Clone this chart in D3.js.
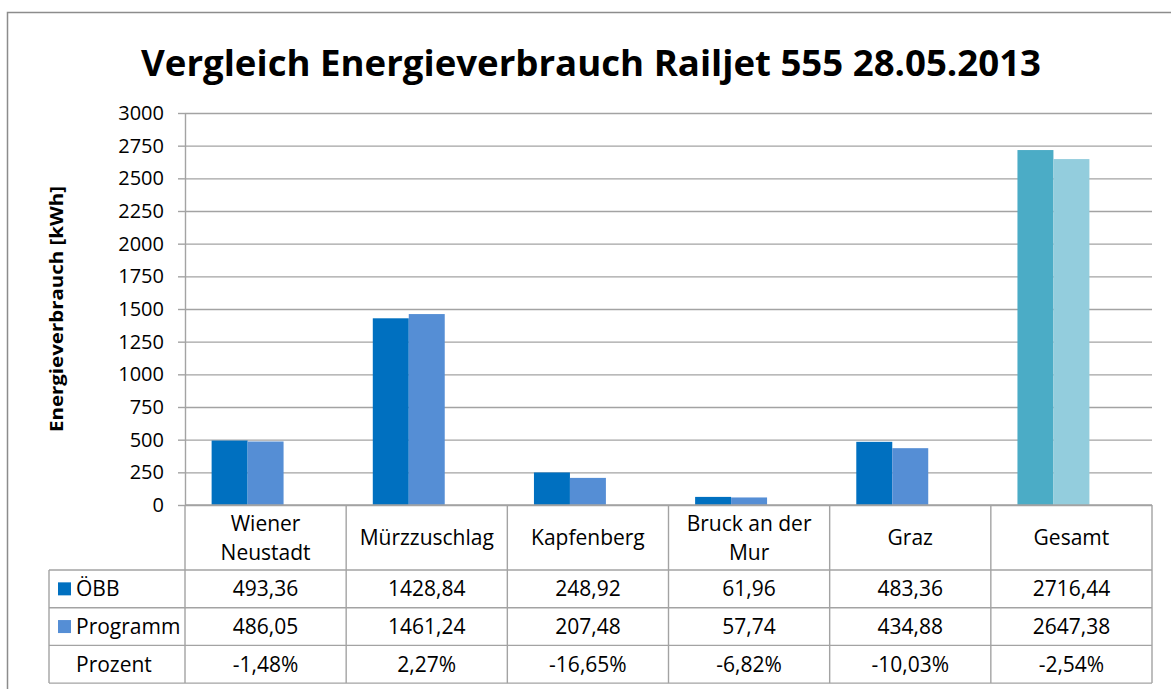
<!DOCTYPE html>
<html>
<head>
<meta charset="utf-8">
<script src="https://d3js.org/d3.v7.min.js"></script>
<style>
  body { margin: 0; background: #fff; }
  text { font-family: "Open Sans", sans-serif; fill: #000; }
</style>
</head>
<body>
<div id="chart"></div>
<script>
// Chart data
var categories = ["Wiener Neustadt", "Mürzzuschlag", "Kapfenberg", "Bruck an der Mur", "Graz", "Gesamt"];
var categoryLines = [["Wiener", "Neustadt"], ["Mürzzuschlag"], ["Kapfenberg"], ["Bruck an der", "Mur"], ["Graz"], ["Gesamt"]];
var seriesNames = ["ÖBB", "Programm", "Prozent"];
var oebbValues = [493.36, 1428.84, 248.92, 61.96, 483.36, 2716.44];
var programmValues = [486.05, 1461.24, 207.48, 57.74, 434.88, 2647.38];
var prozentLabels = ["-1,48%", "2,27%", "-16,65%", "-6,82%", "-10,03%", "-2,54%"];
var yTicks = [0, 250, 500, 750, 1000, 1250, 1500, 1750, 2000, 2250, 2500, 2750, 3000];

// colours: normal bars and the highlighted "Gesamt" bars
var seriesColors = { "ÖBB": "#0070C0", "Programm": "#558ED5" };
var totalColors = { "ÖBB": "#4BACC6", "Programm": "#93CDDD" };

var svgWidth = 1171;
var svgHeight = 689;

// plot area
var plotLeft = 185, plotRight = 1152, plotTop = 113, plotBottom = 505;
// table rows
var headerBottom = 570;
var rowHeight = 37.7;
var tableLeft = 49;
var gridColor = "#a3a3a3";
var tableFont = "21px";

var svg = d3.select("#chart")
  .append("svg")
  .attr("width", svgWidth)
  .attr("height", svgHeight);

// outer chart border (runs off the right and bottom edge)
svg.append("rect")
  .attr("x", 7.5).attr("y", 12.5)
  .attr("width", 1200).attr("height", 720)
  .attr("fill", "#fff")
  .attr("stroke", "#8c8c8c")
  .attr("stroke-width", 1.5);

// title
svg.append("text")
  .attr("x", 591).attr("y", 76)
  .attr("text-anchor", "middle")
  .attr("textLength", 900)
  .attr("lengthAdjust", "spacingAndGlyphs")
  .style("font-size", "35px")
  .style("font-weight", "bold")
  .text("Vergleich Energieverbrauch Railjet 555 28.05.2013");

// scales
var x = d3.scaleBand().domain(categories).range([plotLeft, plotRight]);
var xSeries = d3.scaleBand().domain(seriesNames)
  .range([0, x.bandwidth()])
  .paddingInner(0).paddingOuter(0.74);
var y = d3.scaleLinear().domain([0, 3000]).range([plotBottom, plotTop]);

// gridlines
svg.append("g")
  .attr("transform", `translate(${plotLeft},0)`)
  .call(d3.axisLeft(y).tickValues(yTicks).tickSize(-(plotRight - plotLeft)).tickFormat(""))
  .call(g => g.select(".domain").remove())
  .call(g => g.selectAll("line").attr("stroke", gridColor).attr("stroke-width", 1.4));

// y axis with tick labels (no thousands separator)
var yAxis = svg.append("g")
  .attr("transform", `translate(${plotLeft},0)`)
  .call(d3.axisLeft(y).tickValues(yTicks).tickFormat(d3.format("d"))
    .tickSizeInner(7).tickSizeOuter(0).tickPadding(14));
yAxis.select(".domain").attr("stroke", gridColor).attr("stroke-width", 1.4);
yAxis.selectAll(".tick line").attr("stroke", gridColor).attr("stroke-width", 1.4);
yAxis.selectAll(".tick text")
  .style("font-size", "20px")
  .style("font-family", "'Open Sans', sans-serif")
  .attr("fill", "#000");

// y axis title
svg.append("text")
  .attr("transform", "translate(63,309) rotate(-90)")
  .attr("text-anchor", "middle")
  .attr("textLength", 246)
  .attr("lengthAdjust", "spacingAndGlyphs")
  .style("font-size", "18px")
  .style("font-weight", "bold")
  .text("Energieverbrauch [kWh]");

// bars
var barData = [];
categories.forEach(function(c, i) {
  barData.push({ cat: c, series: "ÖBB", value: oebbValues[i], total: c === "Gesamt" });
  barData.push({ cat: c, series: "Programm", value: programmValues[i], total: c === "Gesamt" });
});

svg.append("g").selectAll("rect")
  .data(barData)
  .enter()
  .append("rect")
  .attr("x", d => x(d.cat) + xSeries(d.series))
  .attr("y", d => y(d.value))
  .attr("width", xSeries.bandwidth())
  .attr("height", d => y(0) - y(d.value))
  .attr("fill", d => d.total ? totalColors[d.series] : seriesColors[d.series]);

// data table
var tableBottom = headerBottom + rowHeight * 3;
var table = svg.append("g")
  .attr("stroke", gridColor)
  .attr("stroke-width", 1.4);

// horizontal lines
table.append("line").attr("x1", plotLeft).attr("x2", plotRight).attr("y1", plotBottom).attr("y2", plotBottom);
[0, 1, 2, 3].forEach(function(r) {
  var yy = headerBottom + r * rowHeight;
  table.append("line").attr("x1", tableLeft).attr("x2", plotRight).attr("y1", yy).attr("y2", yy);
});
// vertical lines
table.append("line").attr("x1", tableLeft).attr("x2", tableLeft).attr("y1", headerBottom).attr("y2", tableBottom);
table.append("line").attr("x1", plotLeft).attr("x2", plotLeft).attr("y1", plotBottom).attr("y2", tableBottom);
categories.forEach(function(c) {
  var xx = x(c) + x.bandwidth();
  table.append("line").attr("x1", xx).attr("x2", xx).attr("y1", plotBottom).attr("y2", tableBottom);
});

// category header text
var fmt = d3.formatLocale({ decimal: ",", thousands: "", grouping: [3], currency: ["", "€"] }).format(".2f");
var headerMid = (plotBottom + headerBottom) / 2;

categories.forEach(function(c, i) {
  var lines = categoryLines[i];
  var t = svg.append("text")
    .attr("text-anchor", "middle")
    .style("font-size", tableFont);
  lines.forEach(function(line, j) {
    t.append("tspan")
      .attr("x", x(c) + x.bandwidth() / 2)
      .attr("y", headerMid + (j - (lines.length - 1) / 2) * 29)
      .attr("dy", "0.36em")
      .text(line);
  });
});

// table rows
var rows = [
  { label: "ÖBB", values: oebbValues.map(fmt), color: seriesColors["ÖBB"] },
  { label: "Programm", values: programmValues.map(fmt), color: seriesColors["Programm"] },
  { label: "Prozent", values: prozentLabels, color: null }
];

rows.forEach(function(row, r) {
  var mid = headerBottom + r * rowHeight + rowHeight / 2;
  if (row.color) {
    svg.append("rect")
      .attr("x", 58).attr("y", mid - 6.5)
      .attr("width", 13).attr("height", 13)
      .attr("fill", row.color);
  }
  svg.append("text")
    .attr("x", 76).attr("y", mid)
    .attr("dy", "0.36em")
    .style("font-size", tableFont)
    .text(row.label);
  categories.forEach(function(c, i) {
    svg.append("text")
      .attr("x", x(c) + x.bandwidth() / 2)
      .attr("y", mid)
      .attr("dy", "0.36em")
      .attr("text-anchor", "middle")
      .style("font-size", tableFont)
      .text(row.values[i]);
  });
});
</script>
</body>
</html>
